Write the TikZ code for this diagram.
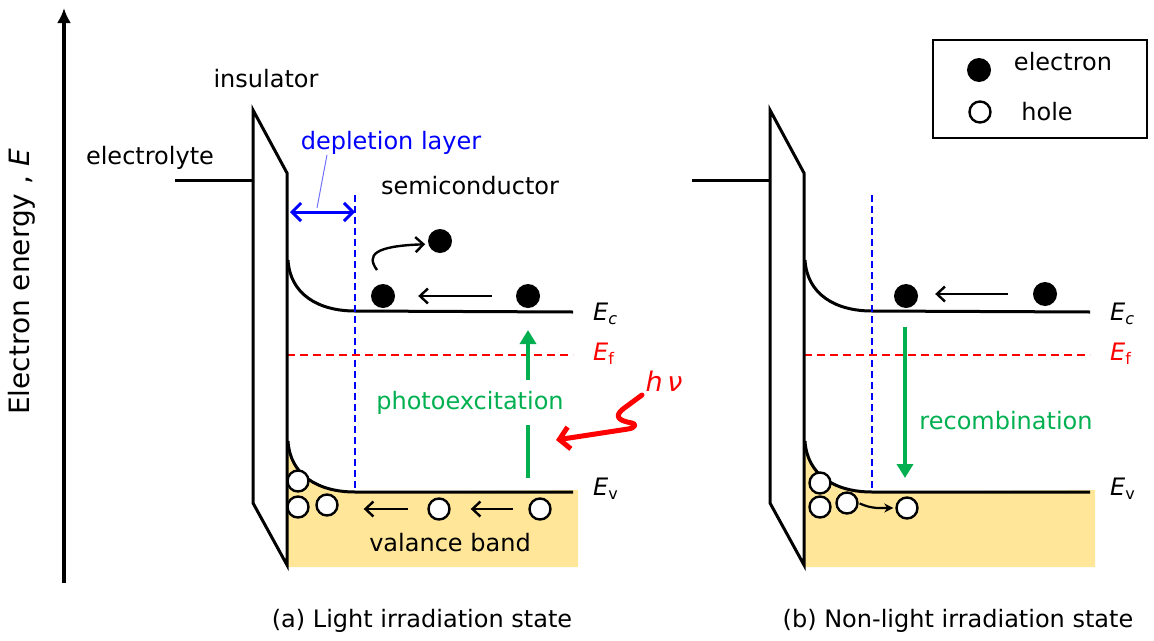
\documentclass[tikz,border=0pt]{standalone}
\usepackage{fontspec}
\setmainfont{DejaVu Sans}
\usetikzlibrary{arrows.meta,positioning,calc}
\definecolor{BandYellow}{HTML}{FFE699}
\definecolor{ExGreen}{HTML}{00B050}
\definecolor{LayerBlue}{HTML}{0000FF}
\definecolor{LeaderBlue}{HTML}{7070FF}
\definecolor{FermiRed}{HTML}{FF0000}
\newcommand{\bandsub}[1]{\raisebox{-4pt}{\fontsize{16}{16}\selectfont #1}}
\tikzset{
  lbl/.style={font=\fontsize{24}{28}\selectfont, inner sep=0pt},
  band/.style={line width=3pt, black},
  insul/.style={draw, line width=3pt, fill=white, line join=miter},
  electron/.style={circle, fill=black, minimum size=24pt, inner sep=0pt},
  hole/.style={circle, draw, line width=2.4pt, fill=white, minimum size=21pt, inner sep=0pt},
  flowarr/.style={-{Straight Barb[length=8pt,width=15pt]}, line width=2.4pt},
  smallarr/.style={-{Stealth[length=9pt,width=9pt]}, line width=2.2pt},
  greenarr/.style={-{Triangle[length=14pt,width=16pt]}, line width=4.5pt, ExGreen},
  greenline/.style={line width=4.5pt, ExGreen},
  deplarr/.style={{Straight Barb[length=9pt,width=18pt]}-{Straight Barb[length=9pt,width=18pt]}, line width=3pt, LayerBlue},
  deplline/.style={dash pattern=on 7pt off 4pt, line width=1.8pt, LayerBlue},
  fermi/.style={dash pattern=on 8pt off 5pt, line width=1.8pt, FermiRed},
  photon/.style={-{Straight Barb[length=10pt,width=22pt]}, line width=5pt, FermiRed, line cap=round, line join=round},
  axisarr/.style={-{Latex[length=15pt,width=14pt]}, line width=3.5pt}
}
\begin{document}
\begin{tikzpicture}[x=1pt, y=-1pt]
\useasboundingbox (0,0) rectangle (1154,640);

% energy axis
\coordinate (axlo) at (64,583);
\coordinate (axhi) at (64,8);
\draw[axisarr] (axlo) -- (axhi);
\node[lbl, font=\fontsize{28}{32}\selectfont, rotate=90] (axlabel) at (22,282) {Electron energy , \textit{E}};

% common band frame of both panels
\foreach \dx/\p in {0/a, 517/b}{
  \begin{scope}[xshift=\dx]
    \fill[BandYellow] (288,441) .. controls (290,475) and (318,492) .. (355,492) -- (578,490) -- (578,567) -- (288,567) -- cycle;
    \draw[band] (288,441) .. controls (290,475) and (318,492) .. (355,492) -- (573,492);
    \draw[band] (288,260) .. controls (290,294) and (318,311) .. (355,311) -- (573,312);
    \draw[deplline] (355,195) -- (355,492);
    \draw[fermi] (287,355) -- (573,355);
    \draw[band] (175,180) -- (253,180);
    \draw[insul] (253,110) -- (287,173) -- (287,565) -- (253,503) -- cycle;
    \node[lbl, anchor=west] (\p-ec) at (593,314) {\textit{E}\bandsub{\textit{c}}};
    \node[lbl, anchor=west, text=FermiRed] (\p-ef) at (593,354) {\textit{E}\bandsub{f}};
    \node[lbl, anchor=west] (\p-ev) at (593,489) {\textit{E}\bandsub{v}};
  \end{scope}
}

% (a) light irradiation
\node[lbl] (electrolyte) at (150,158) {electrolyte};
\node[lbl] (insulator) at (266,79) {insulator};
\node[lbl] (semi) at (470,186) {semiconductor};
\node[lbl, text=LayerBlue] (depl) at (391,143) {depletion layer};
\coordinate (dl-l) at (290,212);
\coordinate (dl-r) at (355,212);
\draw[deplarr] (dl-l) -- (dl-r);
\coordinate (lead) at (317,208);
\draw[LeaderBlue, line width=1pt] ([xshift=-64pt]depl.south) -- (lead);

\node[electron] (e1) at (440,241) {};
\node[electron] (e2) at (383,296) {};
\node[electron] (e3) at (528,296) {};
\draw[flowarr, shorten <=24pt, shorten >=23pt] (e3) -- (e2);
\coordinate (jump) at (377,270);
\draw[flowarr, shorten >=3pt] (jump) .. controls (366,255) and (374,246) .. (e1.195);

\node[hole] (h1) at (298,481) {};
\node[hole] (h2) at (298,507) {};
\node[hole] (h3) at (327,505) {};
\node[hole] (h4) at (439,509) {};
\node[hole] (h5) at (540,509) {};
\draw[flowarr, shorten <=15pt, shorten >=20pt] (h5.west) -- (h4.east);
\draw[flowarr, shorten <=19pt, shorten >=25pt] (h4.west) -- (h3.east |- h4.west);

\node[lbl, text=ExGreen] (photo) at (470,403) {photoexcitation};
\coordinate (px-lo) at (528,478);
\coordinate (px-gap1) at (528,425);
\coordinate (px-gap2) at (528,380);
\coordinate (px-hi) at (528,330);
\draw[greenline] (px-lo) -- (px-gap1);
\draw[greenarr] (px-gap2) -- (px-hi);

\node[lbl, text=FermiRed, font=\fontsize{27}{30}\selectfont] (hv) at (664,381) {\textit{h}\,\textit{ν}};
\coordinate (hv-start) at (642,395);
\coordinate (hv-tip) at (556,440);
\draw[photon] (hv-start) -- (623,409) .. controls (613,417) and (620,421) .. (632,423) .. controls (637,424) and (635,428) .. (628,429) -- (hv-tip);

\node[lbl] (valband) at (450,543) {valance band};
\node[lbl] (cap-a) at (422,621) {(a) Light irradiation state};

% (b) non-light irradiation
\node[electron] (f1) at (906,296) {};
\node[electron] (f2) at (1045,294) {};
\draw[flowarr, shorten <=25pt, shorten >=17pt] (f2.west) -- (f1.east |- f2.west);

\node[hole] (g1) at (820,483) {};
\node[hole] (g2) at (820,507) {};
\node[hole] (g3) at (847,503) {};
\node[hole] (g4) at (907,508) {};
\draw[smallarr, shorten <=1pt, shorten >=2pt] (g3.east) to[out=-25, in=180] (g4.west);

\coordinate (rc-hi) at (905,327);
\coordinate (rc-lo) at (905,478);
\draw[greenarr] (rc-hi) -- (rc-lo);
\node[lbl, text=ExGreen] (recomb) at (1006,421) {recombination};
\node[lbl] (cap-b) at (958,621) {(b) Non-light irradiation state};

% legend
\node[draw, line width=1.8pt, minimum width=214pt, minimum height=98pt, inner sep=0pt] (legend) at (1040,89) {};
\node[electron] (leg-e) at (979,70) {};
\node[lbl] (leg-etxt) at (1063,62) {electron};
\node[hole] (leg-h) at (980,112) {};
\node[lbl] (leg-htxt) at (1047,112) {hole};
\end{tikzpicture}
\end{document}
